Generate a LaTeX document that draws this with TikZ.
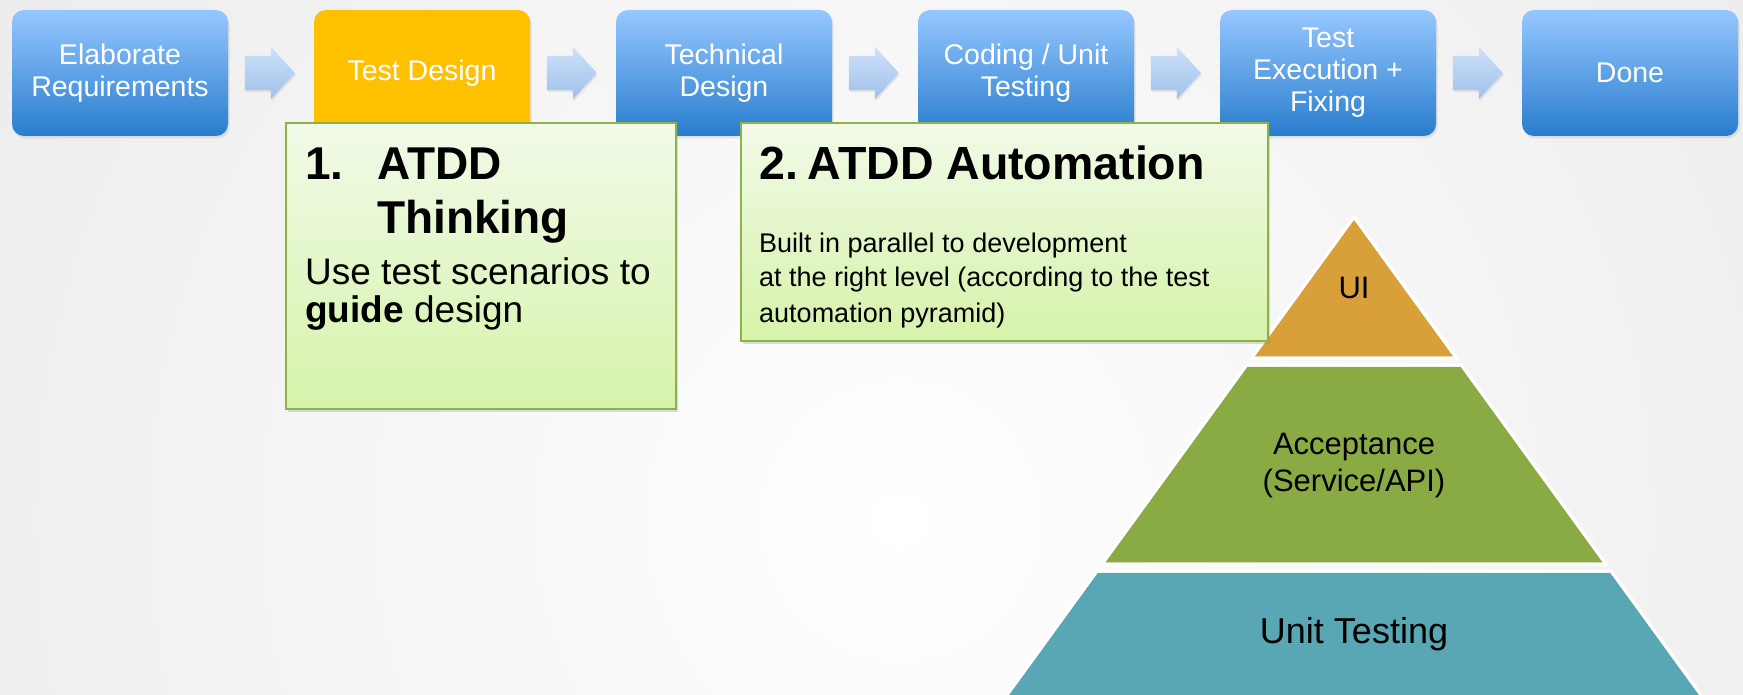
\documentclass[tikz,border=0pt]{standalone}
\usepackage{fontspec}
\setmainfont{Liberation Sans}
\usetikzlibrary{shapes.arrows,shadows}
\definecolor{bgout}{RGB}{212,212,212}
\definecolor{blueTop}{RGB}{150,199,255}
\definecolor{blueBot}{RGB}{40,125,205}
\definecolor{gold}{RGB}{255,192,0}
\definecolor{arrTop}{RGB}{205,225,250}
\definecolor{arrBot}{RGB}{160,192,235}
\definecolor{grTop}{RGB}{241,250,232}
\definecolor{grBot}{RGB}{214,243,170}
\definecolor{grLine}{RGB}{140,178,72}
\definecolor{pyrUI}{RGB}{217,159,56}
\definecolor{pyrAcc}{RGB}{138,170,67}
\definecolor{pyrUnit}{RGB}{89,167,180}
\begin{document}
\begin{tikzpicture}[x=1pt,y=-1pt,
  stepbox/.style={rounded corners=12pt, minimum width=216pt, minimum height=126pt,
    top color=blueTop, bottom color=blueBot, text=white, align=center,
    font=\fontsize{28.5}{32}\selectfont, inner sep=0pt,
    drop shadow={opacity=0.18, shadow xshift=1.5pt, shadow yshift=-2.5pt}},
  goldbox/.style={stepbox, top color=gold, bottom color=gold},
  blockarrow/.style={shape=single arrow, minimum height=50pt, minimum width=52pt,
    single arrow head extend=9pt, single arrow tip angle=95, inner sep=0pt,
    top color=arrTop, bottom color=arrBot,
    drop shadow={opacity=0.15, shadow xshift=1pt, shadow yshift=-2pt}},
  greenbox/.style={draw=grLine, line width=1.6pt, top color=grTop, bottom color=grBot,
    anchor=north west, inner sep=0pt,
    drop shadow={opacity=0.25, shadow xshift=2pt, shadow yshift=-3pt}},
  title/.style={anchor=base west, inner sep=0pt, font=\fontsize{46}{54}\selectfont\bfseries},
  bodyA/.style={anchor=base west, inner sep=0pt, font=\fontsize{37}{42}\selectfont},
  bodyB/.style={anchor=base west, inner sep=0pt, font=\fontsize{27}{34}\selectfont},
  band/.style={draw=white, line width=3pt, line join=miter},
  pyrlabel/.style={align=center, inner sep=0pt, font=\fontsize{31}{37}\selectfont}
]
\useasboundingbox (0,0) rectangle (1743,695);
\begin{scope}
  \clip (0,0) rectangle (1743,695);
  \shade[inner color=white, outer color=bgout] (-1500,-1880) rectangle (3300,2920);
\end{scope}

% process steps
\node[stepbox] (s1) at (120,73) {Elaborate\\Requirements};
\node[goldbox] (s2) at (422,73) {Test Design};
\node[stepbox] (s3) at (724,73) {Technical\\Design};
\node[stepbox] (s4) at (1026,73) {Coding / Unit\\Testing};
\node[stepbox] (s5) at (1328,73) {Test\\Execution +\\Fixing};
\node[stepbox] (s6) at (1630,73) {Done};

\node[blockarrow] (a1) at (262,73) {\rule{0pt}{34pt}};
\node[blockarrow] (a2) at (564,73) {\rule{0pt}{34pt}};
\node[blockarrow] (a3) at (866,73) {\rule{0pt}{34pt}};
\node[blockarrow] (a4) at (1168,73) {\rule{0pt}{34pt}};
\node[blockarrow] (a5) at (1470,73) {\rule{0pt}{34pt}};

% pyramid
\fill[band, fill=pyrUI] (1354,217) -- (1251.6,358) -- (1456.4,358) -- cycle;
\fill[band, fill=pyrAcc] (1246.6,365) -- (1461.4,365) -- (1605.9,564) -- (1102.1,564) -- cycle;
\fill[band, fill=pyrUnit] (1097,571) -- (1611,571) -- (1704.7,700) -- (1003.3,700) -- cycle;
\draw[band] (1354,217) -- (1251.6,358) -- (1456.4,358) -- cycle;
\draw[band] (1246.6,365) -- (1461.4,365) -- (1605.9,564) -- (1102.1,564) -- cycle;
\draw[band] (1097,571) -- (1611,571) -- (1704.7,700) -- (1003.3,700) -- cycle;
\node[pyrlabel] (ui) at (1354,288) {UI};
\node[pyrlabel] (acc) at (1354,466) {Acceptance\\(Service/API)};
\node[pyrlabel, font=\fontsize{36}{44}\selectfont] (unit) at (1354,634) {Unit Testing};

% green boxes
\node[greenbox, minimum width=390pt, minimum height=286pt] (g1) at (285,122) {};
\node[greenbox, minimum width=527pt, minimum height=218pt] (g2) at (740,122) {};

\node[title] (t1n) at (305,180) {1.};
\node[title] (t1a) at (377,180) {ATDD};
\node[title] (t1b) at (377,234) {Thinking};
\node[bodyA] (b1a) at (305,284) {Use test scenarios to};
\node[bodyA] (b1b) at (305,322) {\textbf{guide} design};

\node[title, font=\fontsize{46.5}{54}\selectfont\bfseries] (t2) at (759,180) {2.\kern-3pt\ ATDD Automation};
\node[bodyB] (b2a) at (759,252) {Built in parallel to development};
\node[bodyB] (b2b) at (759,287) {at the right level (according to the test};
\node[bodyB] (b2c) at (759,322) {automation pyramid)};
\end{tikzpicture}
\end{document}
